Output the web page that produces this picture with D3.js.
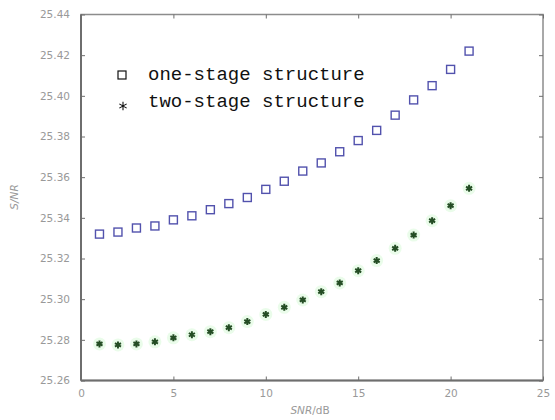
<!DOCTYPE html>
<html>
<head>
<meta charset="utf-8">
<script src="https://cdn.jsdelivr.net/npm/d3@7"></script>
<style>
  body { margin: 0; background: #fff; }
  svg { display: block; }
</style>
</head>
<body>
<svg id="chart"></svg>
<script>
// SNR values (x) shared by both series
const snr = [1, 2, 3, 4, 5, 6, 7, 8, 9, 10, 11, 12, 13, 14, 15, 16, 17, 18, 19, 20, 21]

const oneStage = [25.332, 25.333, 25.335, 25.336, 25.339, 25.341, 25.344, 25.347, 25.350, 25.354,
  25.358, 25.363, 25.367, 25.3725, 25.378, 25.383, 25.3905, 25.398, 25.405, 25.413, 25.422]

const twoStage = [25.278, 25.2775, 25.278, 25.279, 25.281, 25.2825, 25.284, 25.286, 25.289, 25.2925,
  25.296, 25.2996, 25.3037, 25.308, 25.314, 25.319, 25.325, 25.3315, 25.3386, 25.346, 25.3545]

const xTicks = [0, 5, 10, 15, 20, 25]
const yTicks = [25.26, 25.28, 25.30, 25.32, 25.34, 25.36, 25.38, 25.40, 25.42, 25.44]

const legendLabels = ["one-stage structure", "two-stage structure"]

const width = 555
const height = 420
const margin = { top: 14.5, right: 12, bottom: 39.5, left: 81 }

const svg = d3.select("#chart")
  .attr("width", width)
  .attr("height", height)

const x = d3.scaleLinear()
  .domain([0, 25])
  .range([margin.left, width - margin.right])

const y = d3.scaleLinear()
  .domain([25.26, 25.44])
  .range([height - margin.bottom, margin.top])

const axisColor = "#6e6e6e"
const labelColor = "#999"

// Frame
svg.append("rect")
  .attr("x", x(0))
  .attr("y", y(25.44))
  .attr("width", x(25) - x(0))
  .attr("height", y(25.26) - y(25.44))
  .attr("fill", "none")
  .attr("stroke", "#8c8c8c")
  .attr("stroke-width", 1.5)

function styleAxis(g) {
  g.select(".domain").remove()
  g.selectAll(".tick line").attr("stroke", axisColor)
  g.selectAll(".tick text")
    .attr("fill", labelColor)
    .attr("font-family", "DejaVu Sans")
    .attr("font-size", 10.5)
}

// Bottom axis (ticks inside)
svg.append("g")
  .attr("transform", `translate(0, ${y(25.26)})`)
  .call(d3.axisBottom(x).tickValues(xTicks).tickSize(-4).tickPadding(9).tickFormat(d3.format("d")))
  .call(styleAxis)

// Top ticks
svg.append("g")
  .attr("transform", `translate(0, ${y(25.44)})`)
  .call(d3.axisTop(x).tickValues(xTicks).tickSize(-4).tickFormat(""))
  .call(styleAxis)

// Left axis
svg.append("g")
  .attr("transform", `translate(${x(0)}, 0)`)
  .call(d3.axisLeft(y).tickValues(yTicks).tickSize(-4).tickPadding(11).tickFormat(d3.format(".2f")))
  .call(styleAxis)

// Right ticks
svg.append("g")
  .attr("transform", `translate(${x(25)}, 0)`)
  .call(d3.axisRight(y).tickValues(yTicks).tickSize(-4).tickFormat(""))
  .call(styleAxis)

// Heavier left and bottom spines
svg.append("line")
  .attr("x1", x(0)).attr("x2", x(0))
  .attr("y1", y(25.44)).attr("y2", y(25.26))
  .attr("stroke", axisColor).attr("stroke-width", 2)
svg.append("line")
  .attr("x1", x(0)).attr("x2", x(25))
  .attr("y1", y(25.26)).attr("y2", y(25.26))
  .attr("stroke", axisColor).attr("stroke-width", 2)

// Axis titles
const xTitle = svg.append("text")
  .attr("x", 310)
  .attr("y", 414)
  .attr("text-anchor", "middle")
  .attr("fill", labelColor)
  .attr("font-family", "DejaVu Sans")
  .attr("font-size", 10.5)
xTitle.append("tspan").attr("font-style", "italic").text("SNR")
xTitle.append("tspan").text("/dB")

svg.append("text")
  .attr("transform", `translate(18, 197) rotate(-90)`)
  .attr("text-anchor", "middle")
  .attr("fill", labelColor)
  .attr("font-family", "DejaVu Sans")
  .attr("font-size", 10.5)
  .attr("font-style", "italic")
  .text("S/NR")

// Two-stage series: asterisks with a soft green halo
const star = d3.symbol().type(d3.symbolAsterisk).size(34)
const twoPoints = svg.append("g")
  .selectAll("g")
  .data(snr.map((s, i) => ({ s, v: twoStage[i] })))
  .join("g")
  .attr("transform", d => `translate(${x(d.s)}, ${y(d.v)})`)

twoPoints.append("circle")
  .attr("r", 6.5)
  .attr("fill", "#9ef09e")
  .attr("opacity", 0.22)

twoPoints.append("path")
  .attr("d", star)
  .attr("fill", "none")
  .attr("stroke", "#244d24")
  .attr("stroke-width", 2)

// One-stage series: open squares
svg.append("g")
  .selectAll("rect")
  .data(snr.map((s, i) => ({ s, v: oneStage[i] })))
  .join("rect")
  .attr("x", d => x(d.s) - 4)
  .attr("y", d => y(d.v) - 4)
  .attr("width", 8)
  .attr("height", 8)
  .attr("fill", "none")
  .attr("stroke", "#5252ad")
  .attr("stroke-width", 1.4)

// Legend
const legend = svg.append("g")

legend.append("rect")
  .attr("x", 118)
  .attr("y", 71)
  .attr("width", 8)
  .attr("height", 8)
  .attr("fill", "none")
  .attr("stroke", "#111")
  .attr("stroke-width", 1.2)

legend.append("path")
  .attr("transform", "translate(123, 106)")
  .attr("d", d3.symbol().type(d3.symbolAsterisk).size(50))
  .attr("fill", "none")
  .attr("stroke", "#111")
  .attr("stroke-width", 1.1)

legend.selectAll("text")
  .data(legendLabels)
  .join("text")
  .attr("x", 148)
  .attr("y", (d, i) => 80 + i * 27)
  .attr("fill", "#111")
  .attr("font-family", "Liberation Mono")
  .attr("font-size", 19)
  .text(d => d)
</script>
</body>
</html>
